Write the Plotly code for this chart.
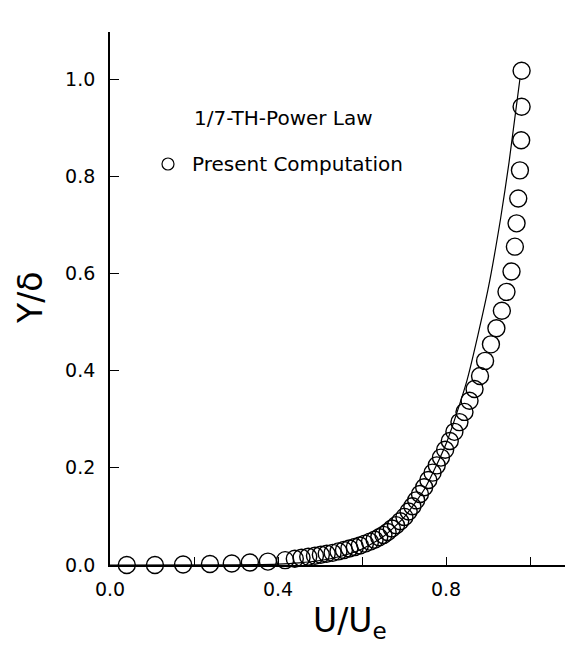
import plotly.graph_objects as go

# Present computation (open circles)
comp_u = [0.040, 0.107, 0.174, 0.238, 0.290, 0.333, 0.376, 0.417, 0.440, 0.456,
          0.472, 0.488, 0.502, 0.516, 0.530, 0.544, 0.557, 0.570, 0.583, 0.595,
          0.607, 0.619, 0.630, 0.641, 0.651, 0.661, 0.671, 0.681, 0.691, 0.701,
          0.711, 0.720, 0.729, 0.738, 0.748, 0.758, 0.768, 0.778, 0.788, 0.798,
          0.809, 0.820, 0.832, 0.844, 0.856, 0.868, 0.881, 0.893, 0.907, 0.920,
          0.933, 0.944, 0.956, 0.964, 0.968, 0.972, 0.976, 0.979, 0.980, 0.980]
comp_y = [0.000, 0.000, 0.001, 0.002, 0.003, 0.005, 0.007, 0.010, 0.013, 0.015,
          0.017, 0.019, 0.021, 0.023, 0.025, 0.028, 0.031, 0.034, 0.037, 0.040,
          0.044, 0.048, 0.052, 0.057, 0.062, 0.068, 0.075, 0.082, 0.090, 0.099,
          0.110, 0.121, 0.133, 0.146, 0.160, 0.175, 0.190, 0.205, 0.221, 0.237,
          0.255, 0.274, 0.294, 0.315, 0.338, 0.362, 0.389, 0.420, 0.454, 0.487,
          0.523, 0.562, 0.604, 0.655, 0.703, 0.754, 0.812, 0.874, 0.943, 1.017]

# 1/7-th power law (solid line)
law_u = [0.00, 0.30, 0.40, 0.45, 0.50, 0.55, 0.60, 0.65, 0.70, 0.75,
         0.80, 0.85, 0.90, 0.93, 0.95, 0.976]
law_y = [0.000, 0.0004, 0.0019, 0.0044, 0.0093, 0.018, 0.033, 0.058, 0.098, 0.158,
         0.249, 0.380, 0.567, 0.713, 0.828, 1.000]

x_tickvals = [0.0, 0.4, 0.8]
x_ticktext = ["0.0", "0.4", "0.8"]
x_minor_tickvals = [0.2, 0.6, 1.0]
y_tickvals = [0.0, 0.2, 0.4, 0.6, 0.8, 1.0]
y_ticktext = ["0.0", "0.2", "0.4", "0.6", "0.8", "1.0"]

legend_law = "1/7-TH-Power Law"
legend_comp = "Present Computation"
x_title = "U/U<sub>e</sub>"
y_title = "Y/δ"

FONT = "DejaVu Sans"

# The page body has an 8px default margin; lay the figure out in page pixels.
OFF = 8
PAGE_W, PAGE_H = 573, 651
W, H = PAGE_W - OFF, PAGE_H - OFF
ML = 110 - OFF
MT = 32 - OFF
MB = H - (565 - OFF)
MR = 0
pw = W - ML - MR
ph = H - MT - MB


def px(xp):
    return (xp - OFF - ML) / pw


def py(yp):
    return (H - MB - (yp - OFF)) / ph


fig = go.Figure()
fig.add_trace(go.Scatter(
    x=law_u, y=law_y, mode="lines",
    line=dict(color="black", width=1.2, shape="spline", smoothing=0.6),
    cliponaxis=False, showlegend=False, hoverinfo="skip"))
fig.add_trace(go.Scatter(
    x=comp_u, y=comp_y, mode="markers",
    marker=dict(symbol="circle-open", size=17, color="black",
                line=dict(color="black", width=1.4)),
    cliponaxis=False, showlegend=False))

fig.update_layout(
    width=W, height=H,
    margin=dict(l=ML, r=MR, t=MT, b=MB, pad=0),
    paper_bgcolor="white", plot_bgcolor="white",
    font=dict(family=FONT, color="black", size=19),
    showlegend=False,
    xaxis=dict(range=[0, pw / 420.0], showgrid=False, zeroline=False,
               showline=True, linecolor="black", linewidth=1.6,
               ticks="inside", ticklen=8, tickwidth=1, tickcolor="black",
               tickvals=x_tickvals, ticktext=x_ticktext,
               minor=dict(tickvals=x_minor_tickvals, ticks="inside",
                          ticklen=8, tickwidth=1, tickcolor="black"),
               tickfont=dict(family=FONT, size=19, color="black"),
               ticklabelstandoff=6, fixedrange=True),
    yaxis=dict(range=[0, ph / 486.0], showgrid=False, zeroline=False,
               showline=True, linecolor="black", linewidth=1.8,
               ticks="inside", ticklen=9, tickwidth=1, tickcolor="black",
               tickvals=y_tickvals, ticktext=y_ticktext,
               tickfont=dict(family=FONT, size=19, color="black"),
               ticklabelstandoff=9, fixedrange=True),
    annotations=[
        dict(text=legend_law, xref="paper", yref="paper", x=px(192), y=py(118),
             xanchor="left", yanchor="middle", showarrow=False,
             font=dict(family=FONT, size=20, color="black")),
        dict(text=legend_comp, xref="paper", yref="paper", x=px(190), y=py(164),
             xanchor="left", yanchor="middle", showarrow=False,
             font=dict(family=FONT, size=20, color="black")),
        dict(text=x_title, xref="paper", yref="paper", x=px(350), y=py(622),
             xanchor="center", yanchor="middle", showarrow=False,
             font=dict(family=FONT, size=33, color="black")),
        dict(text=y_title, xref="paper", yref="paper", x=px(30), y=py(298),
             xanchor="center", yanchor="middle", showarrow=False, textangle=-90,
             font=dict(family=FONT, size=33, color="black")),
    ],
    shapes=[
        dict(type="circle", xref="paper", yref="paper",
             xsizemode="pixel", ysizemode="pixel",
             xanchor=px(168), yanchor=py(164),
             x0=-6, x1=6, y0=-6, y1=6,
             line=dict(color="black", width=1.2)),
    ],
)

fig.write_html("out.html")
